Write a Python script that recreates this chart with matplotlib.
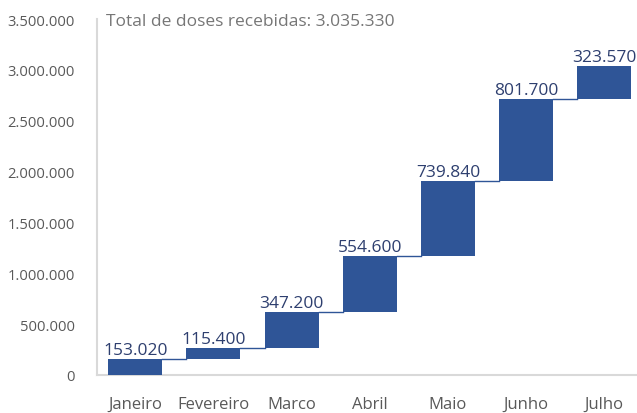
import numpy as np
import matplotlib.pyplot as plt
from matplotlib.ticker import FuncFormatter

months = ['Janeiro', 'Fevereiro', 'Marco', 'Abril', 'Maio', 'Junho', 'Julho']
doses = [153020, 115400, 347200, 554600, 739840, 801700, 323570]
total = sum(doses)

bar_color = '#2F5597'
label_color = '#2E3F6F'
gray = '#767676'

plt.rcParams['font.family'] = ['Open Sans', 'DejaVu Sans']


def fmt(v, pos=None):
    return f'{int(v):,}'.replace(',', '.')


x = np.arange(len(months))
vals = np.array(doses)
bottoms = np.concatenate([[0], np.cumsum(vals)[:-1]])
tops = bottoms + vals

fig = plt.figure(figsize=(6.37, 4.14), dpi=100)
ax = fig.add_axes([97 / 637, 1 - 376 / 414, 540 / 637, 356 / 414])

w = 0.69
ax.bar(x, vals, bottom=bottoms, width=w, color=bar_color, zorder=3)
for i in range(len(x) - 1):
    ax.plot([x[i] + w / 2, x[i + 1] - w / 2], [tops[i], tops[i]],
            color=bar_color, lw=1, zorder=2)
for i in range(len(x)):
    ax.text(x[i], tops[i] + 10000, fmt(vals[i]), ha='center', va='bottom',
            fontsize=12.5, color=label_color)

ax.set_xlim(-0.49, 6.42)
ax.set_ylim(0, 3500000)
ax.set_yticks(np.arange(0, 3500001, 500000))
ax.yaxis.set_major_formatter(FuncFormatter(fmt))
ax.set_xticks(x)
ax.set_xticklabels(months)
ax.tick_params(axis='y', length=0, pad=16, labelsize=10.6, labelcolor='#595959')
ax.tick_params(axis='x', length=0, pad=15, labelsize=12, labelcolor='#595959')

for s in ['top', 'right']:
    ax.spines[s].set_visible(False)
for s in ['left', 'bottom']:
    ax.spines[s].set_color('#D9D9D9')
    ax.spines[s].set_linewidth(1.5)

ax.text(0.017, 0.995, f'Total de doses recebidas: {fmt(total)}',
        transform=ax.transAxes, ha='left', va='center', fontsize=12.5, color=gray)

fig.savefig('out.png', dpi=100)
